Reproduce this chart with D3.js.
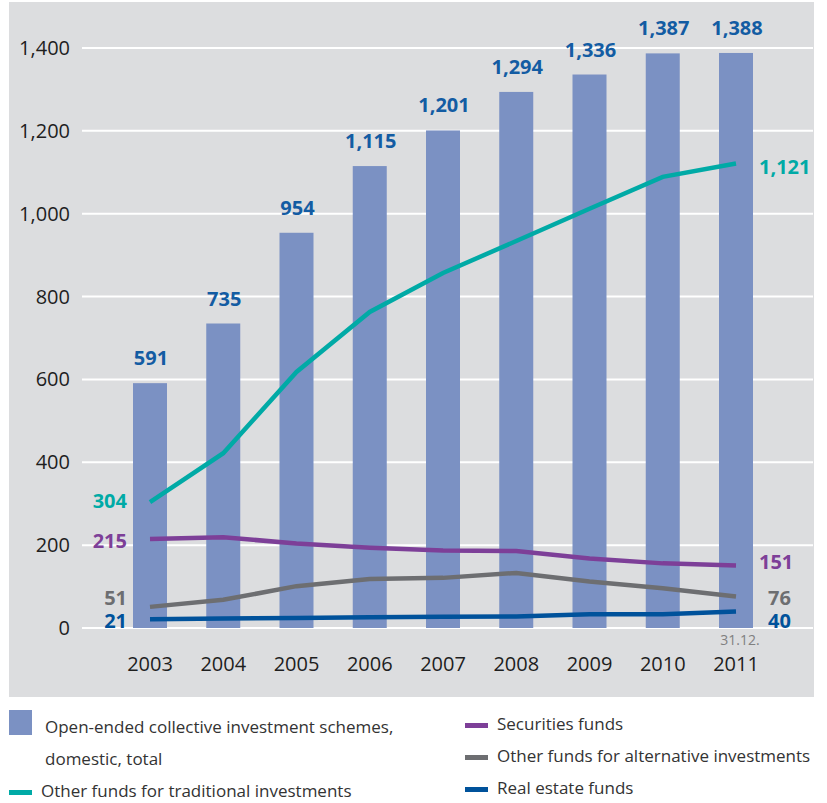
<!DOCTYPE html>
<html>
<head>
<meta charset="utf-8">
<script src="https://cdn.jsdelivr.net/npm/d3@7"></script>
<style>
  body { margin: 0; background: #fff; }
  svg text { font-family: "Open Sans", "Noto Sans", sans-serif; }
</style>
</head>
<body>
<svg id="chart" width="827" height="803"></svg>
<script>
const years = ["2003", "2004", "2005", "2006", "2007", "2008", "2009", "2010", "2011"];
const totalFunds = [591, 735, 954, 1115, 1201, 1294, 1336, 1387, 1388];
const traditional = [304, 422, 618, 763, 857, 934, 1012, 1089, 1121];
const securities = [215, 219, 204, 194, 187, 186, 168, 156, 151];
const alternative = [51, 68, 101, 118, 121, 133, 112, 96, 76];
const realEstate = [21, 23, 24, 26, 27, 28, 33, 33, 40];
const yTicks = [0, 200, 400, 600, 800, 1000, 1200, 1400];

const fmt = d3.format(",");
const svg = d3.select("#chart");

// grey panel
svg.append("rect")
  .attr("x", 9).attr("y", 2)
  .attr("width", 805).attr("height", 695)
  .attr("fill", "#dcdddf");

const x = d3.scalePoint().domain(years).range([150, 736]);
const y = d3.scaleLinear().domain([0, 1400]).range([628, 48]);

// gridlines + y labels
const grid = svg.append("g");
grid.selectAll("line").data(yTicks).join("line")
  .attr("x1", 82).attr("x2", 813)
  .attr("y1", d => y(d)).attr("y2", d => y(d))
  .attr("stroke", "#fff").attr("stroke-width", 2);
grid.selectAll("text").data(yTicks).join("text")
  .attr("x", 70).attr("y", d => y(d) + 7)
  .attr("text-anchor", "end")
  .attr("font-size", 20).attr("fill", "#1e1e1e")
  .text(d => fmt(d));

// bars
const barW = 34;
svg.append("g").selectAll("rect").data(totalFunds).join("rect")
  .attr("x", (d, i) => x(years[i]) - barW / 2)
  .attr("y", d => y(d))
  .attr("width", barW)
  .attr("height", d => y(0) - y(d))
  .attr("fill", "#7b91c3");

svg.append("g").selectAll("text").data(totalFunds).join("text")
  .attr("x", (d, i) => x(years[i]) + 1)
  .attr("y", d => y(d) - 18)
  .attr("text-anchor", "middle")
  .attr("font-size", 20).attr("font-weight", "bold")
  .attr("fill", "#135ca3")
  .text(d => fmt(d));

// x labels
svg.append("g").selectAll("text").data(years).join("text")
  .attr("x", d => x(d))
  .attr("y", 671)
  .attr("text-anchor", "middle")
  .attr("font-size", 20).attr("fill", "#1e1e1e")
  .text(d => d);
svg.append("text")
  .attr("x", x("2011") + 4).attr("y", 645)
  .attr("text-anchor", "middle")
  .attr("font-size", 14).attr("fill", "#808080")
  .text("31.12.");

// lines
const series = [
  { name: "Other funds for traditional investments", values: traditional, color: "#00aaa6", startDy: 6, endDy: 10 },
  { name: "Securities funds", values: securities, color: "#7d3f98", startDy: 9, endDy: 4 },
  { name: "Other funds for alternative investments", values: alternative, color: "#6d6e71", startDy: -2, endDy: 8 },
  { name: "Real estate funds", values: realEstate, color: "#00529b", startDy: 9, endDy: 17 }
];

const line = d3.line()
  .x((d, i) => x(years[i]))
  .y(d => y(d));

const lines = svg.append("g");
lines.selectAll("path").data(series).join("path")
  .attr("d", d => line(d.values))
  .attr("fill", "none")
  .attr("stroke", d => d.color)
  .attr("stroke-width", 4.5);

// start / end labels
const last = years.length - 1;
lines.selectAll("text.start").data(series).join("text")
  .attr("class", "start")
  .attr("x", 127)
  .attr("y", d => y(d.values[0]) + d.startDy)
  .attr("text-anchor", "end")
  .attr("font-size", 20).attr("font-weight", "bold")
  .attr("fill", d => d.color)
  .text(d => fmt(d.values[0]));
lines.selectAll("text.end").data(series).join("text")
  .attr("class", "end")
  .attr("x", (d, i) => i >= 2 ? 768 : 759)
  .attr("y", d => y(d.values[last]) + d.endDy)
  .attr("font-size", 20).attr("font-weight", "bold")
  .attr("fill", d => d.color)
  .text(d => fmt(d.values[last]));

// legend
const legend = svg.append("g").attr("font-size", 17).attr("fill", "#333");
legend.append("rect").attr("x", 9).attr("y", 710).attr("width", 23).attr("height", 25).attr("fill", "#7b91c3");
legend.append("text").attr("x", 45).attr("y", 733).text("Open-ended collective investment schemes,");
legend.append("text").attr("x", 45).attr("y", 765).text("domestic, total");

const legendItems = [
  { s: series[0], x: 9, y: 797 },
  { s: series[1], x: 465, y: 730 },
  { s: series[2], x: 465, y: 762 },
  { s: series[3], x: 465, y: 794 }
];
legendItems.forEach(it => {
  legend.append("rect")
    .attr("x", it.x).attr("y", it.y - 7)
    .attr("width", 23).attr("height", 5)
    .attr("fill", it.s.color);
  legend.append("text")
    .attr("x", it.x + 32).attr("y", it.y)
    .text(it.s.name);
});
</script>
</body>
</html>
